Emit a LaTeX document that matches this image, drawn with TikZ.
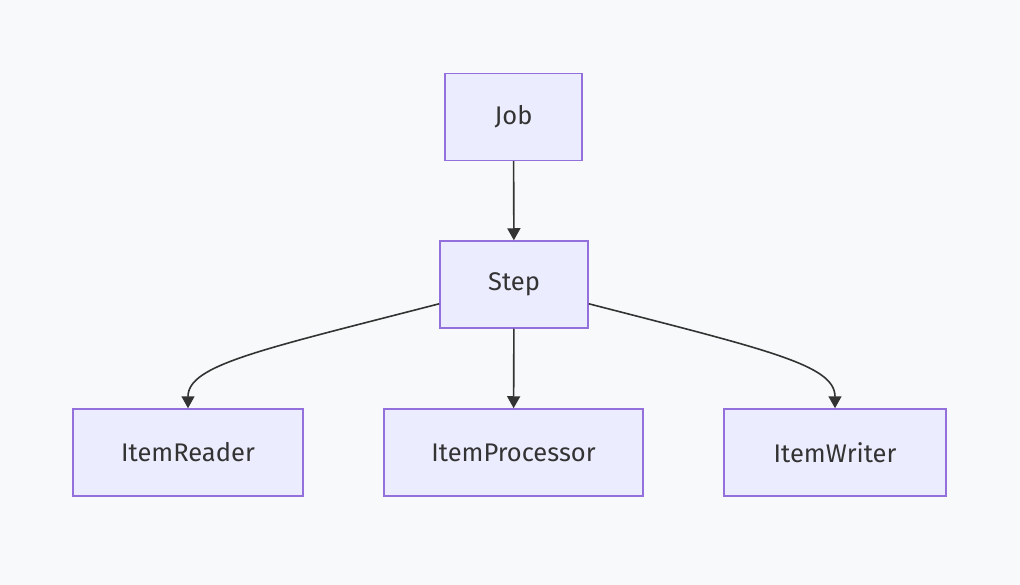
\documentclass[tikz,border=0pt]{standalone}
\usepackage{fontspec}
\setmainfont{Fira Sans}
\usepackage{tikz}
\usetikzlibrary{arrows.meta}
\definecolor{canvas}{RGB}{248,249,250}
\definecolor{boxfill}{RGB}{236,236,255}
\definecolor{boxline}{RGB}{147,112,219}
\definecolor{ink}{RGB}{51,51,51}
\tikzset{
  nodebox/.style={draw=boxline, fill=boxfill, line width=1.5pt,
                  minimum height=87pt, inner sep=0pt, text=ink,
                  font=\fontsize{25.5}{30}\selectfont},
  flow/.style={draw=ink, line width=1.6pt,
               -{Triangle[length=12pt,width=13pt]}},
}

\begin{document}
\begin{tikzpicture}[x=1pt,y=-1pt]
  \useasboundingbox[fill=canvas] (0,0) rectangle (1020,585);
  % --- kutular ---
  \node[nodebox, minimum width=137pt] (job) at (513.5,117) {Job};
  \node[nodebox, minimum width=148pt] (step) at (514,284.5) {Step};
  \node[nodebox, minimum width=230pt] (reader) at (188,452.5) {ItemReader};
  \node[nodebox, minimum width=259pt] (processor) at (513.5,452.5) {ItemProcessor};
  \node[nodebox, minimum width=222pt] (writer) at (835,452.5) {ItemWriter};
  % --- oklar ---
  \draw[flow] (job) -- (step);
  \draw[flow] (step) -- (processor);
  \draw[flow] (step) .. controls (260,350) and (188,365) .. (reader.north);
  \draw[flow] (step) .. controls (768,350) and (835,365) .. (writer.north);
\end{tikzpicture}
\end{document}
